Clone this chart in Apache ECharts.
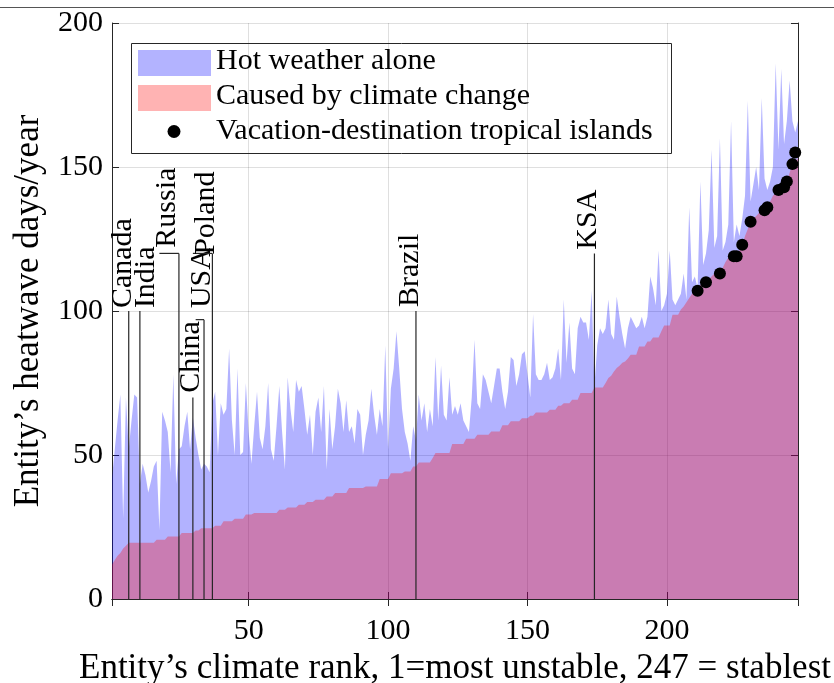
<!DOCTYPE html>
<html>
<head>
<meta charset="utf-8">
<script src="https://cdn.jsdelivr.net/npm/echarts@6.0.0/dist/echarts.min.js"></script>
<style>
  html, body { margin: 0; background: #fff; }
  #chart { width: 834px; height: 683px; }
</style>
</head>
<body>
<div id="chart"></div>
<script>
// heatwave days per entity, index 0 = climate rank 1
const hotWeatherDays = [
  42, 52, 62, 71, 28, 70, 52, 62, 71, 70,
  40, 47, 43, 37, 41, 46, 48, 24, 65, 62,
  58, 44, 78, 40, 52, 53, 60, 65, 52, 63,
  56, 50, 45, 47, 46, 44, 68, 72, 50, 68,
  64, 66, 87, 62, 50, 80, 50, 51, 75, 58,
  47, 60, 72, 56, 52, 60, 75, 52, 48, 60,
  74, 58, 45, 77, 66, 58, 76, 72, 74, 66,
  57, 64, 50, 65, 70, 58, 74, 45, 66, 52,
  60, 73, 68, 58, 69, 58, 60, 54, 66, 64,
  50, 57, 62, 73, 64, 57, 66, 60, 88, 52,
  73, 80, 93, 80, 66, 58, 54, 48, 60, 55,
  71, 62, 68, 58, 66, 60, 84, 62, 81, 64,
  62, 77, 64, 67, 64, 68, 62, 60, 58, 70,
  90, 68, 66, 78, 76, 72, 68, 74, 80, 80,
  72, 66, 72, 84, 83, 74, 78, 85, 86, 78,
  70, 99, 78, 76, 76, 78, 82, 76, 77, 80,
  87, 76, 104, 82, 96, 80, 78, 94, 98, 96,
  96, 90, 107, 74, 88, 94, 92, 94, 104, 92,
  90, 105, 98, 92, 87, 94, 98, 96, 94, 95,
  98, 94, 98, 112, 108, 102, 121, 100, 102, 106,
  121, 104, 102, 104, 106, 113, 104, 136, 110, 112,
  108, 145, 116, 120, 128, 156, 122, 126, 160, 121,
  124, 130, 166, 124, 130, 126, 132, 140, 173, 138,
  144, 150, 142, 174, 146, 142, 145, 150, 186, 156,
  184, 158, 166, 180, 166, 162, 166
];

const climateChangeDays = [
  12, 13.5, 15, 16, 17.5, 18.5, 19.5, 19.5, 19.5, 19.5,
  19.5, 19.5, 19.5, 19.5, 19.5, 19.5, 20.6, 20.6, 20.6, 20.6,
  21.7, 21.7, 21.7, 21.7, 21.7, 22.9, 22.9, 22.9, 22.9, 22.9,
  23.8, 23.8, 24.6, 24.6, 24.6, 24.6, 24.6, 25.4, 25.4, 25.4,
  27, 27, 27, 27, 27.9, 27.9, 27.9, 27.9, 29.3, 29.3,
  29.3, 29.9, 29.9, 29.9, 29.9, 29.9, 29.9, 29.9, 29.9, 29.9,
  31, 31, 31, 31.8, 31.8, 31.8, 31.8, 32.7, 32.7, 32.7,
  33.7, 33.7, 33.7, 34.5, 34.5, 34.5, 34.5, 35.6, 35.6, 35.6,
  36.8, 36.8, 36.8, 36.8, 36.8, 38.5, 38.5, 38.5, 38.5, 38.5,
  38.5, 39.1, 39.1, 39.1, 39.1, 39.1, 41.7, 41.7, 41.7, 41.7,
  43.7, 43.7, 43.7, 43.7, 43.7, 44.3, 44.3, 44.3, 46, 46,
  47.4, 47.4, 47.4, 47.4, 47.4, 49, 50.7, 50.7, 50.7, 50.7,
  50.7, 50.7, 53.8, 53.8, 53.8, 53.8, 53.8, 55.6, 55.6, 55.6,
  55.6, 57, 57, 57, 57, 57, 58.2, 58.2, 58.2, 58.2,
  60.3, 60.3, 60.3, 61.7, 61.7, 61.7, 61.7, 62.8, 62.8, 62.8,
  63.6, 63.6, 64.8, 64.8, 64.8, 64.8, 64.8, 65.7, 65.7, 65.7,
  67.1, 67.1, 68, 68, 68, 69.2, 69.2, 69.2, 71.5, 71.5,
  71.5, 71.5, 71.5, 73.4, 73.4, 73.4, 73.4, 75, 76.7, 77.5,
  79, 80.2, 81, 82, 82.5, 83.5, 84.8, 84.8, 84.8, 87.7,
  87.7, 87.7, 89.4, 89.4, 90.8, 90.8, 90.8, 93, 95, 95,
  95, 98.7, 98.7, 98.7, 100.5, 101.6, 103, 104.5, 106, 107,
  107, 109, 110, 110, 111, 112, 113, 113, 113, 115,
  117, 118.5, 119, 119, 119, 121, 123, 126, 128.5, 131,
  132, 133, 134, 135, 135, 136, 138, 140, 141, 142,
  143, 143, 145, 148, 151, 152, 153
];

const islandRanks = [211, 214, 219, 224, 225, 227, 230, 235, 236, 240, 242, 243, 245, 246];
const islandDays = [107, 110, 113, 119, 119, 123, 131, 135, 136, 142, 143, 145, 151, 155];

const countryNames = ['Canada', 'India', 'Russia', 'China', 'USA', 'Poland', 'Brazil', 'KSA'];
const countryRanks = [7, 11, 25, 30, 34, 37, 110, 174];
const countryLineTops = [100, 100, 120, 70, 97, 120, 100, 120];
// where each rotated label sits (rank of its centre, days at its start)
const labelRanks = [4.9, 13.2, 20.9, 29.3, 33.3, 34.9, 107.9, 171.8];
const labelDays = [101, 101, 122, 71.6, 101, 119.5, 101.4, 121.3];
// short flag at the top of some lines, in ranks
const flagRanks = [0, 0, 7, 0, 3, 7, 0, 0];

const FONT = '"Liberation Serif", "Times New Roman", serif';
const AXIS_COLOR = '#262626';
const GRID_COLOR = 'rgba(38,38,38,0.15)';

const chart = echarts.init(document.getElementById('chart'), null, { renderer: 'canvas' });

const sideAxis = {
  axisLine: { show: true, lineStyle: { color: AXIS_COLOR, width: 1 } },
  axisTick: { show: true, inside: true, length: 7, lineStyle: { color: AXIS_COLOR } },
  axisLabel: { show: false },
  splitLine: { show: false }
};

chart.setOption({
  animation: false,
  backgroundColor: '#fff',
  grid: { left: 112, right: 36, top: 23, bottom: 84, outerBoundsMode: 'none' },
  xAxis: [
    {
      type: 'value', min: 1, max: 247, position: 'bottom',
      axisLine: { show: true, onZero: false, lineStyle: { color: AXIS_COLOR, width: 1 } },
      axisTick: { show: true, inside: true, length: 7, lineStyle: { color: AXIS_COLOR } },
      axisLabel: {
        showMinLabel: false, showMaxLabel: false, margin: 17,
        color: '#000', fontFamily: FONT, fontSize: 30
      },
      splitLine: { show: true, lineStyle: { color: GRID_COLOR } },
      name: 'Entity\u2019s climate rank, 1=most unstable, 247 = stablest',
      nameLocation: 'middle', nameGap: 49,
      nameTextStyle: { color: '#000', fontFamily: FONT, fontSize: 35 }
    },
    Object.assign({ type: 'value', min: 1, max: 247, position: 'top' }, sideAxis)
  ],
  yAxis: [
    {
      type: 'value', min: 0, max: 200, interval: 50, position: 'left',
      axisLine: { show: true, onZero: false, lineStyle: { color: AXIS_COLOR, width: 1 } },
      axisTick: { show: true, inside: true, length: 7, lineStyle: { color: AXIS_COLOR } },
      axisLabel: { margin: 9, color: '#000', fontFamily: FONT, fontSize: 30 },
      splitLine: { show: true, lineStyle: { color: GRID_COLOR } },
      name: 'Entity\u2019s heatwave days/year',
      nameLocation: 'middle', nameGap: 66,
      nameTextStyle: { color: '#000', fontFamily: FONT, fontSize: 35 }
    },
    Object.assign({ type: 'value', min: 0, max: 200, interval: 50, position: 'right' }, sideAxis)
  ],
  series: [
    {
      name: 'Hot weather alone', type: 'line', symbol: 'none', z: 2,
      lineStyle: { width: 0 },
      areaStyle: { color: 'rgba(0,0,255,0.3)', opacity: 1, origin: 'start' },
      data: hotWeatherDays.map((v, i) => [i + 1, v])
    },
    {
      name: 'Caused by climate change', type: 'line', symbol: 'none', z: 2,
      lineStyle: { width: 0 },
      areaStyle: { color: 'rgba(255,0,0,0.3)', opacity: 1, origin: 'start' },
      data: climateChangeDays.map((v, i) => [i + 1, v])
    },
    {
      name: 'countries', type: 'custom', z: 3,
      data: countryNames.map((n, i) => [countryRanks[i], countryLineTops[i], labelRanks[i], labelDays[i], flagRanks[i]]),
      renderItem(params, api) {
        const base = api.coord([api.value(0), 0]);
        const top = api.coord([api.value(0), api.value(1)]);
        const lab = api.coord([api.value(2), api.value(3)]);
        const children = [{
          type: 'line',
          shape: { x1: base[0], y1: base[1], x2: top[0], y2: top[1] },
          style: { stroke: AXIS_COLOR, lineWidth: 1.2 }
        }];
        if (api.value(4) > 0) {
          const flag = api.coord([api.value(0) - api.value(4), api.value(1)]);
          children.push({
            type: 'line',
            shape: { x1: flag[0], y1: top[1], x2: top[0], y2: top[1] },
            style: { stroke: AXIS_COLOR, lineWidth: 1.2 }
          });
        }
        children.push({
          type: 'text', x: lab[0], y: lab[1], rotation: Math.PI / 2,
          style: {
            text: countryNames[params.dataIndex], fill: '#000',
            font: '30px ' + FONT, align: 'left', verticalAlign: 'middle'
          }
        });
        return { type: 'group', children };
      }
    },
    {
      name: 'Vacation-destination tropical islands', type: 'scatter', z: 4,
      symbolSize: 12, itemStyle: { color: '#000', opacity: 1 },
      data: islandRanks.map((r, i) => [r, islandDays[i]])
    }
  ],
  graphic: [
    { type: 'line', shape: { x1: 0, y1: 7.5, x2: 834, y2: 7.5 }, style: { stroke: '#555', lineWidth: 1 }, z: 10 },
    {
      type: 'group', z: 20,
      children: [
        { type: 'rect', shape: { x: 131.5, y: 43.5, width: 540, height: 110 }, style: { fill: '#fff', stroke: AXIS_COLOR, lineWidth: 1 } },
        { type: 'rect', shape: { x: 138, y: 50, width: 73, height: 26 }, style: { fill: 'rgb(179,179,255)' } },
        { type: 'rect', shape: { x: 138, y: 85, width: 73, height: 26 }, style: { fill: 'rgb(255,179,179)' } },
        { type: 'circle', shape: { cx: 174, cy: 131.5, r: 6.5 }, style: { fill: '#000' } },
        { type: 'text', x: 216, y: 61, style: { text: 'Hot weather alone', font: '30px ' + FONT, fill: '#000', verticalAlign: 'middle' } },
        { type: 'text', x: 216, y: 96, style: { text: 'Caused by climate change', font: '30px ' + FONT, fill: '#000', verticalAlign: 'middle' } },
        { type: 'text', x: 216, y: 131, style: { text: 'Vacation-destination tropical islands', font: '30px ' + FONT, fill: '#000', verticalAlign: 'middle' } }
      ]
    }
  ]
});
</script>
</body>
</html>
